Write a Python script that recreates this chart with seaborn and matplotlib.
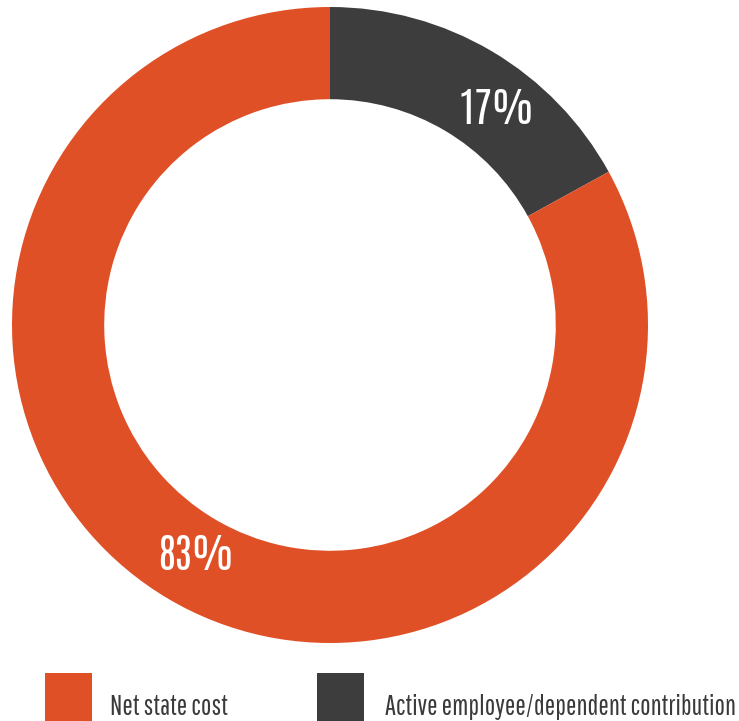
import matplotlib
matplotlib.use("Agg")
import matplotlib.pyplot as plt
import seaborn as sns
from matplotlib.patches import Rectangle
from matplotlib import font_manager

categories = ["Active employee/dependent contribution", "Net state cost"]
values = [17, 83]
pct_labels = ["17%", "83%"]
colors = ["#3d3d3d", "#e05027"]
legend_order = ["Net state cost", "Active employee/dependent contribution"]

sns.set_theme(style="white")

W, H = 739, 721
fig = plt.figure(figsize=(W / 100, H / 100), dpi=100)
fig.patch.set_facecolor("white")
renderer = fig.canvas.get_renderer()

names = {f.name for f in font_manager.fontManager.ttflist}


def pick(prefs):
    for p in prefs:
        if p in names:
            return p
    return "DejaVu Sans"

legend_font = pick(["Pathway Gothic One", "Antonio", "Oswald", "Archivo Narrow", "Asap Condensed"])
label_font = pick(["Antonio", "Oswald", "Pathway Gothic One", "Archivo Narrow", "Asap Condensed"])
plt.rcParams["font.family"] = [legend_font, "DejaVu Sans"]


def width(s, fam, size):
    t = fig.text(0, 0, s, fontsize=size, family=[fam, "DejaVu Sans"])
    w = t.get_window_extent(renderer).width
    t.remove()
    return w

cx, cy, R = 330, 325, 318
ax = fig.add_axes([(cx - R) / W, (H - cy - R) / H, 2 * R / W, 2 * R / H])
wedges, _ = ax.pie(values, colors=colors, startangle=90, counterclock=False,
                   radius=1.0, wedgeprops=dict(width=0.29, linewidth=0))
ax.set_xlim(-1, 1)
ax.set_ylim(-1, 1)
ax.set_aspect("equal")
ax.axis("off")

psize = 30 * 76 / width("83%", label_font, 30)
label_pos = [(0.525, 0.632), (-0.421, -0.770)]
for (x, y), t in zip(label_pos, pct_labels):
    ax.text(x, y, t, ha="center", va="baseline", color="white", fontsize=psize,
            family=[label_font, "DejaVu Sans"])

# legend
col_map = dict(zip(categories, colors))
sq_x = [45, 317]
txt_x = [110, 385]
lsize = 21 * 350 / width(legend_order[1], legend_font, 21)
for name, sx, tx in zip(legend_order, sq_x, txt_x):
    fig.patches.append(Rectangle((sx / W, 0), 47 / W, 48 / H, transform=fig.transFigure,
                                 facecolor=col_map[name], edgecolor="none"))
    fig.text(tx / W, (H - 715) / H, name, ha="left", va="baseline", color="#3a3a3a",
             fontsize=lsize)

fig.savefig("out.png", dpi=100, facecolor="white")
